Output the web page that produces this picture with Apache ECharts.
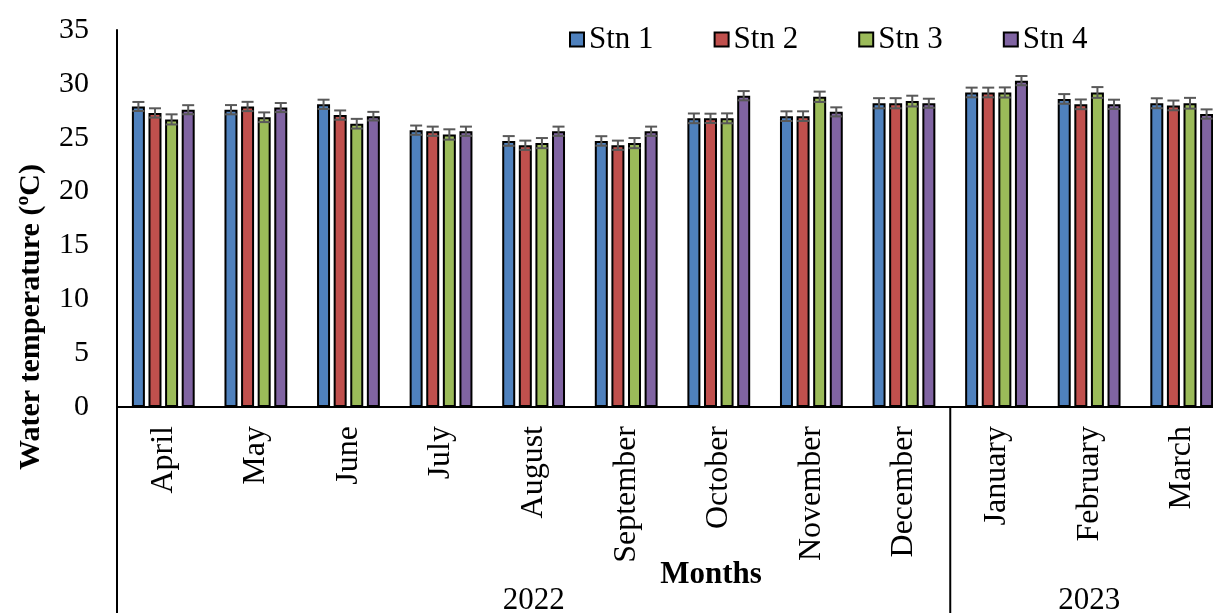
<!DOCTYPE html>
<html><head><meta charset="utf-8">
<script src="https://cdn.jsdelivr.net/npm/echarts@6/dist/echarts.min.js"></script>
<style>html,body{margin:0;padding:0;background:#fff}#c{width:1213px;height:613px}</style>
</head><body><div id="c"></div>
<script>
// ---- data ----
const months = ['April','May','June','July','August','September','October','November','December','January','February','March'];
const years = ['2022','2023'];
const yearSpans = [9, 3];
const seriesNames = ['Stn 1','Stn 2','Stn 3','Stn 4'];
const stn1 = [27.9, 27.6, 28.1, 25.7, 24.7, 24.7, 26.8, 27.0, 28.2, 29.2, 28.6, 28.2];
const stn2 = [27.3, 27.9, 27.1, 25.6, 24.3, 24.3, 26.8, 27.0, 28.2, 29.2, 28.1, 28.0];
const stn3 = [26.7, 26.9, 26.3, 25.3, 24.5, 24.5, 26.8, 28.8, 28.4, 29.2, 29.2, 28.2];
const stn4 = [27.6, 27.8, 27.0, 25.6, 25.6, 25.6, 28.9, 27.4, 28.2, 30.3, 28.1, 27.2];
const err1 = [0.42, 0.43, 0.43, 0.43, 0.45, 0.44, 0.45, 0.45, 0.47, 0.45, 0.45, 0.46];
const err2 = [0.43, 0.43, 0.43, 0.43, 0.43, 0.43, 0.43, 0.45, 0.47, 0.45, 0.45, 0.45];
const err3 = [0.47, 0.45, 0.45, 0.48, 0.47, 0.47, 0.46, 0.48, 0.50, 0.47, 0.50, 0.50];
const err4 = [0.42, 0.42, 0.40, 0.43, 0.43, 0.43, 0.43, 0.42, 0.42, 0.43, 0.43, 0.43];
const yMin = 0, yMax = 35, yStep = 5;

const values = [stn1, stn2, stn3, stn4];
const errors = [err1, err2, err3, err4];
const colors = ['#4F81BD', '#C0504D', '#9BBB59', '#8064A2'];
const FONT = 'Liberation Serif';
const BAR_W = 13, BAR_GAP = 3.6, PITCH = BAR_W + BAR_GAP;

const chart = echarts.init(document.getElementById('c'), null, {renderer: 'canvas'});

const series = [];
values.forEach((vals, si) => {
  series.push({
    name: seriesNames[si], type: 'bar', data: vals,
    barWidth: BAR_W, barGap: (BAR_GAP / BAR_W * 100) + '%',
    itemStyle: {color: colors[si], borderColor: '#000', borderWidth: 2},
    emphasis: {disabled: true}, z: 2
  });
});
values.forEach((vals, si) => {
  series.push({
    type: 'custom', z: 5, silent: true,
    data: vals.map((v, i) => [i, v, errors[si][i]]),
    encode: {x: 0, y: 1},
    renderItem: function (params, api) {
      const x = api.value(0), v = api.value(1), e = api.value(2);
      const top = api.coord([x, v + e]);
      const bot = api.coord([x, v - e]);
      const cx = top[0] + (si - 1.5) * PITCH;
      const st = {stroke: '#595959', lineWidth: 2};
      return {type: 'group', children: [
        {type: 'line', shape: {x1: cx, y1: top[1], x2: cx, y2: bot[1]}, style: st},
        {type: 'line', shape: {x1: cx - 6, y1: top[1], x2: cx + 6, y2: top[1]}, style: st},
        {type: 'line', shape: {x1: cx - 6, y1: bot[1], x2: cx + 6, y2: bot[1]}, style: st}
      ]};
    }
  });
});

chart.setOption({
  animation: false,
  backgroundColor: '#fff',
  textStyle: {fontFamily: FONT, color: '#000'},
  legend: {
    data: seriesNames, left: 564, top: 19, itemGap: 60,
    itemWidth: 14, itemHeight: 14, icon: 'rect',
    itemStyle: {borderColor: '#000', borderWidth: 2},
    textStyle: {fontFamily: FONT, fontSize: 31, color: '#000'},
    selectedMode: false
  },
  grid: {left: 117, top: 30, width: 1111, height: 377, containLabel: false, outerBoundsMode: 'none'},
  xAxis: {
    type: 'category', data: months,
    axisLine: {show: true, lineStyle: {color: '#000', width: 2}},
    axisTick: {show: false},
    axisLabel: {rotate: 90, margin: 19, interval: 0, fontFamily: FONT, fontSize: 32, color: '#000'},
    splitLine: {show: false}
  },
  yAxis: {
    type: 'value', min: yMin, max: yMax, interval: yStep,
    axisLine: {show: true, lineStyle: {color: '#000', width: 2}},
    axisTick: {show: false},
    axisLabel: {margin: 28, fontFamily: FONT, fontSize: 30, color: '#000'},
    splitLine: {show: false}
  },
  series: series
});

// multi-level axis decorations computed from the chart's own scales
const c0 = chart.convertToPixel({xAxisIndex: 0}, 0);
const c1 = chart.convertToPixel({xAxisIndex: 0}, 1);
const bw = c1 - c0;
const leftEdge = c0 - bw / 2;
const y0 = chart.convertToPixel({yAxisIndex: 0}, yMin);
const H = 613;
const graphics = [];
graphics.push({type: 'line', shape: {x1: leftEdge, y1: y0, x2: leftEdge, y2: H}, style: {stroke: '#000', lineWidth: 2}});
let start = 0;
yearSpans.forEach((n, k) => {
  const x1 = leftEdge + start * bw, x2 = leftEdge + (start + n) * bw;
  graphics.push({type: 'text', x: (x1 + x2) / 2, y: 601, style: {text: years[k], font: '31px "' + FONT + '"', fill: '#000', align: 'center', verticalAlign: 'middle'}});
  if (k > 0) graphics.push({type: 'line', shape: {x1: x1, y1: y0, x2: x1, y2: H}, style: {stroke: '#000', lineWidth: 2}});
  start += n;
});
graphics.push({type: 'text', x: 711, y: 575, style: {text: 'Months', font: 'bold 31px "' + FONT + '"', fill: '#000', align: 'center', verticalAlign: 'middle'}});
graphics.push({type: 'text', x: 31, y: 317, rotation: Math.PI / 2, style: {text: 'Water temperature (ºC)', font: 'bold 30px "' + FONT + '"', fill: '#000', align: 'center', verticalAlign: 'middle'}});
chart.setOption({graphic: graphics});
</script></body></html>
